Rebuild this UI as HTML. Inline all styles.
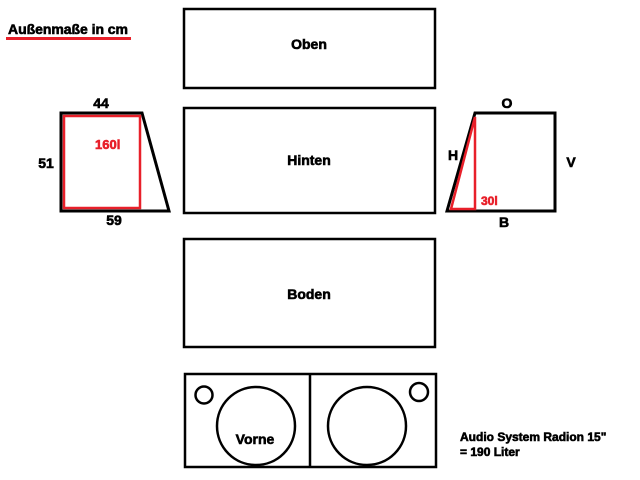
<!DOCTYPE html>
<html><head><style>body{margin:0;background:#fff}</style></head><body>
<svg width="640" height="475" xmlns="http://www.w3.org/2000/svg" font-family="Liberation Sans, sans-serif" font-weight="bold">
<rect width="640" height="475" fill="#fff"/>
<g fill="none" stroke="#000" stroke-width="2.5">
<rect x="184" y="9" width="251" height="79"/>
<rect x="184" y="108" width="251" height="105"/>
<rect x="184" y="239" width="251" height="108"/>
<rect x="185" y="374" width="251" height="93"/>
<line x1="310" y1="374" x2="310" y2="467"/>
<circle cx="204" cy="395" r="8.5"/>
<circle cx="256" cy="426" r="39"/>
<circle cx="367" cy="426" r="39"/>
<circle cx="419" cy="392" r="9"/>
<polygon points="61,113 142,113 169,211 61,211" stroke-width="3"/>
<polygon points="447,211 475,113 555,113 555,211" stroke-width="3"/>
</g>
<g fill="none" stroke="#e8202a" stroke-width="2.5">
<rect x="64" y="116" width="76" height="92"/>
<polygon points="451,209 475,117 475,209"/>
</g>
<line x1="6" y1="38.5" x2="131" y2="38.5" stroke="#e8202a" stroke-width="3"/>
<g stroke="#000" stroke-width="0.6">
<text x="8" y="34" font-size="14" textLength="120">Außenmaße in cm</text>
<g font-size="14" text-anchor="middle">
<text x="309" y="49">Oben</text>
<text x="309" y="165">Hinten</text>
<text x="309" y="299">Boden</text>
<text x="255" y="444">Vorne</text>
<text x="101" y="108">44</text>
<text x="46" y="168">51</text>
<text x="114" y="225">59</text>
<text x="507" y="108">O</text>
<text x="453" y="160">H</text>
<text x="571" y="167">V</text>
<text x="504" y="227">B</text>
</g>
<text x="460" y="441" font-size="12">Audio System Radion 15"</text>
<text x="460" y="456" font-size="12">= 190 Liter</text>
</g>
<g fill="#e8202a" stroke="#e8202a" stroke-width="0.6">
<text x="95" y="149" font-size="13">160l</text>
<text x="481" y="205" font-size="12">30l</text>
</g>
</svg>
</body></html>
